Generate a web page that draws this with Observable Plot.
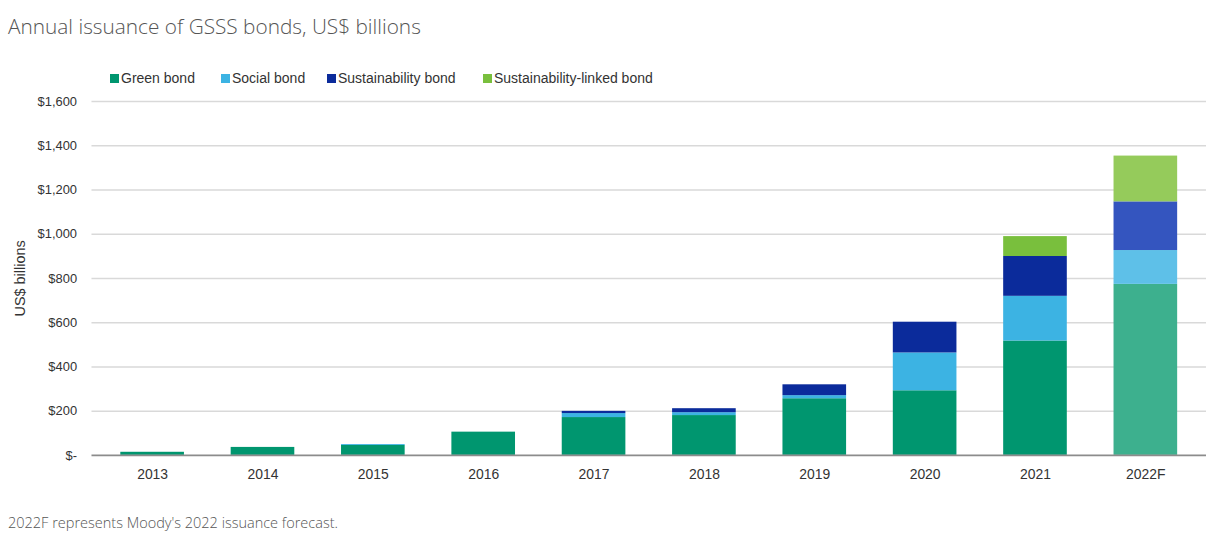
<!DOCTYPE html>
<html>
<head>
<meta charset="utf-8">
<script src="https://cdn.jsdelivr.net/npm/d3@7"></script>
<script src="https://cdn.jsdelivr.net/npm/@observablehq/plot@0.6"></script>
<style>
  html, body { margin: 0; padding: 0; background: #fff; }
  body { width: 1206px; height: 533px; position: relative; overflow: hidden; font-family: "Liberation Sans", Arial, sans-serif; }
  #title { position: absolute; left: 8px; top: 12px; font-family: "Open Sans", sans-serif; font-weight: 300; font-size: 20.8px; color: #555; white-space: nowrap; }
  #legend { position: absolute; left: 0; top: 70px; width: 1206px; height: 18px; font-size: 14px; color: #333; }
  #legend .item { position: absolute; top: 0; display: flex; align-items: center; white-space: nowrap; }
  #legend .sw { width: 9px; height: 9px; margin-right: 2px; display: inline-block; }
  #chart { position: absolute; left: 0; top: 90px; }
  #caption { position: absolute; left: 8px; top: 513px; font-family: "Open Sans", sans-serif; font-weight: 300; font-size: 14.5px; color: #555; white-space: nowrap; }
</style>
</head>
<body>
<div id="title">Annual issuance of GSSS bonds, US$ billions</div>
<div id="legend"></div>
<div id="chart"></div>
<div id="caption">2022F represents Moody's 2022 issuance forecast.</div>
<script>
// Data (US$ billions)
const years = ["2013", "2014", "2015", "2016", "2017", "2018", "2019", "2020", "2021", "2022F"];
const seriesNames = ["Green bond", "Social bond", "Sustainability bond", "Sustainability-linked bond"];
const green          = [14, 36, 45, 105, 171, 180, 256, 292, 517, 773];
const social         = [0, 0, 4, 0, 18, 13, 14, 171, 202, 153];
const sustainability = [0, 0, 0, 0, 10, 18, 49, 139, 180, 220];
const sustainLinked  = [0, 0, 0, 0, 0, 0, 0, 0, 90, 207];
const yTicks = [0, 200, 400, 600, 800, 1000, 1200, 1400, 1600];

const colors         = ["#00966f", "#3cb3e3", "#0b2b9b", "#79bf3d"];
const forecastColors = ["#3db08e", "#5ec0e8", "#3455bf", "#95cb5b"];
const legendLeft     = [110, 221, 327, 483];

const seriesValues = [green, social, sustainability, sustainLinked];
const table = [];
seriesNames.forEach((s, si) => {
  years.forEach((yr, i) => {
    table.push({year: yr, series: s, si, value: seriesValues[si][i], forecast: yr.endsWith("F")});
  });
});

// Legend
const legend = document.getElementById("legend");
seriesNames.forEach((s, i) => {
  const item = document.createElement("div");
  item.className = "item";
  item.style.left = legendLeft[i] + "px";
  item.innerHTML = `<span class="sw" style="background:${colors[i]}"></span><span>${s}</span>`;
  legend.appendChild(item);
});

const fmt = d3.format(",");
const yFormat = d => d === 0 ? "$-" : "$" + fmt(d);
const chart = Plot.plot({
  width: 1213,
  height: 405,
  marginLeft: 92,
  marginRight: 0,
  marginTop: 11,
  marginBottom: 38,
  style: {fontFamily: "Liberation Sans, Arial, sans-serif", fontSize: "13px", color: "#333", background: "#fff", overflow: "visible"},
  x: {domain: years, paddingInner: 0.424, paddingOuter: 0.22, label: null},
  y: {domain: [0, 1600], label: null},
  color: {type: "identity"},
  marks: [
    Plot.ruleY(yTicks.filter(d => d > 0), {stroke: "#d9d9d9", strokeWidth: 1.5}),
    Plot.barY(table, {x: "year", y: "value", fill: d => (d.forecast ? forecastColors : colors)[d.si]}),
    Plot.ruleY([0], {stroke: "#8c8c8c", strokeWidth: 2}),
    Plot.axisY({ticks: yTicks, tickSize: 0, tickPadding: 15, tickFormat: yFormat, label: null, fontSize: 13}),
    Plot.axisX({tickSize: 0, tickPadding: 14, label: null, fontSize: 14}),
    Plot.text(["US$ billions"], {frameAnchor: "left", textAnchor: "middle", dx: -72, rotate: -90, fontSize: 14.5, fill: "#333"})
  ]
});
document.getElementById("chart").appendChild(chart);
</script>
</body>
</html>
